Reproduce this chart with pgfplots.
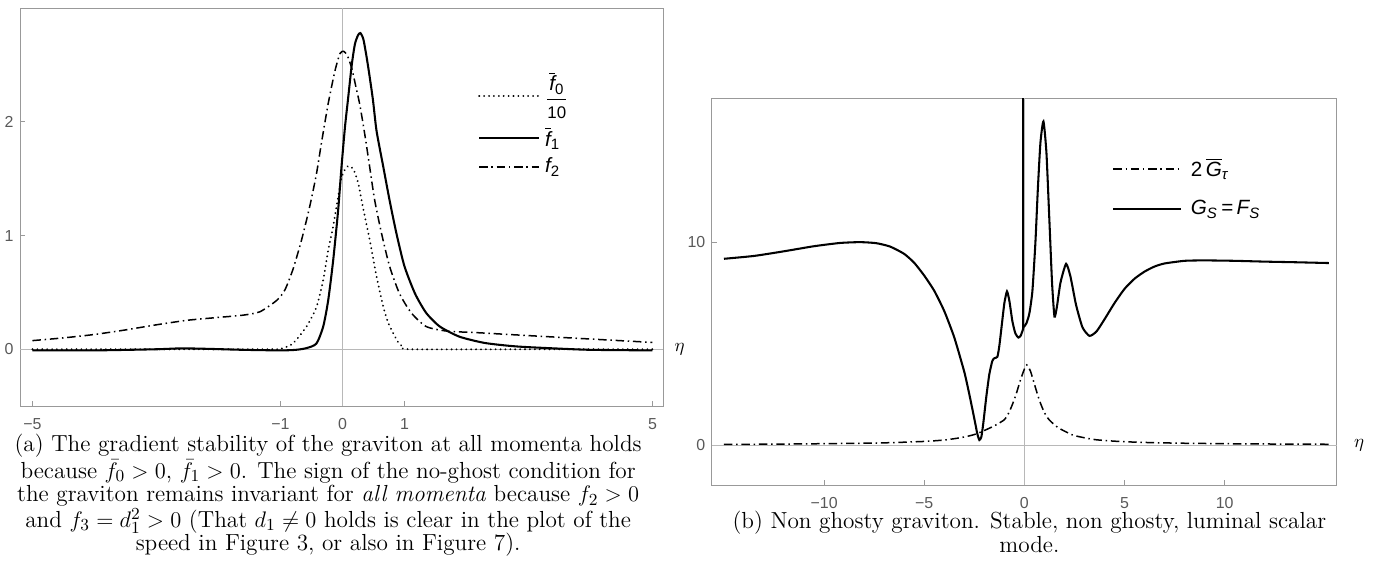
\documentclass[border=0pt]{standalone}
\usepackage{fontspec}
\setsansfont{Liberation Sans}
\usepackage{pgfplots}
\pgfplotsset{compat=1.18}
\definecolor{framegray}{gray}{0.6}
\definecolor{tickgray}{gray}{0.35}
\definecolor{axgray}{gray}{0.72}
\newcommand{\lsub}[1]{\mbox{\sffamily\fontsize{8}{9}\selectfont #1}}
\newcommand{\lsubi}[1]{\mbox{\sffamily\itshape\fontsize{8}{9}\selectfont #1}}
\newcommand{\lbar}[1]{\overline{\mbox{\sffamily\itshape #1}}}
\pgfplotsset{mystyle/.style={
  scale only axis, clip mode=individual,
  axis line style={framegray, line width=0.5pt},
  every tick/.style={framegray, line width=0.5pt},
  tick align=inside, major tick length=2.5pt,
  xtick pos=bottom, ytick pos=left,
  tick label style={font=\sffamily\fontsize{8.5}{10}\selectfont, text=tickgray},
  xticklabel style={yshift=-3pt},
  /pgf/number format/assume math mode=true,
  legend cell align=left,
  legend style={draw=none, fill=none, inner sep=0pt, font=\sffamily\fontsize{11}{13}\selectfont},
}}
\tikzset{
  solidc/.style={black, line width=1.1pt},
  dotc/.style={black, line width=1.1pt, line cap=round, dash pattern=on 0.01pt off 2.6pt},
  ddc/.style={black, line width=0.8pt, dash pattern=on 4.5pt off 2pt on 0.8pt off 2pt},
}
\pgfplotstableread{
x y
-5 0
-2 0
-1.1 0
-1.0 0.003
-0.8 0.05
-0.58 0.2
-0.42 0.37
-0.31 0.61
-0.23 0.87
-0.15 1.08
-0.07 1.34
-0.016 1.51
0.04 1.58
0.09 1.61
0.17 1.59
0.25 1.47
0.33 1.25
0.44 0.96
0.55 0.64
0.66 0.37
0.74 0.23
0.82 0.14
0.9 0.06
0.98 0.02
1.1 0
3 0
5 0
}\fzero
\pgfplotstableread{
x y
-5 -0.01
-4 -0.01
-3 0.0
-2.6 0.008
-2.2 0.004
-1.6 -0.005
-1.0 -0.01
-0.75 -0.005
-0.58 0.01
-0.42 0.05
-0.31 0.2
-0.23 0.43
-0.15 0.78
-0.07 1.22
-0.016 1.6
0.04 1.95
0.09 2.2
0.15 2.5
0.2 2.68
0.25 2.76
0.29 2.78
0.34 2.72
0.41 2.5
0.49 2.2
0.55 1.92
0.66 1.6
0.76 1.31
0.87 1.02
1.0 0.73
1.17 0.49
1.35 0.32
1.57 0.2
1.89 0.11
2.3 0.055
2.8 0.025
3.4 0.008
4 -0.005
5 -0.01
}\fone
\pgfplotstableread{
x y
-5 0.076
-4.5 0.1
-4 0.13
-3.5 0.17
-3 0.215
-2.5 0.255
-2 0.28
-1.6 0.3
-1.33 0.33
-1.06 0.43
-0.93 0.52
-0.8 0.7
-0.66 0.96
-0.53 1.25
-0.42 1.54
-0.34 1.81
-0.23 2.16
-0.12 2.45
-0.04 2.6
0.02 2.62
0.08 2.58
0.15 2.47
0.22 2.3
0.28 2.15
0.36 1.89
0.44 1.6
0.52 1.31
0.63 1.02
0.76 0.73
0.92 0.49
1.11 0.32
1.35 0.2
1.68 0.16
2.2 0.145
3 0.12
4 0.09
5 0.06
}\ftwo
\pgfplotstableread{
x y
-15 0.03
-12 0.05
-9 0.08
-7 0.11
-5 0.18
-4 0.25
-3.4 0.33
-3 0.4
-2.5 0.52
-2 0.72
-1.5 0.95
-1.0 1.25
-0.8 1.55
-0.6 2.0
-0.4 2.55
-0.2 3.2
0 3.75
0.12 3.95
0.3 3.65
0.5 3.0
0.75 2.2
1.0 1.6
1.25 1.23
1.7 0.85
2.4 0.5
3.0 0.36
3.6 0.26
4.7 0.18
6 0.13
8 0.09
11 0.06
15.2 0.04
}\gtau
\pgfplotstableread{
x y
-15 9.18
-13.5 9.32
-12 9.55
-10.5 9.8
-9.2 9.96
-8.2 10.0
-7.4 9.95
-6.7 9.78
-6 9.42
-5.5 8.98
-5 8.35
-4.5 7.6
-4.0 6.6
-3.5 5.3
-3.0 3.6
-2.75 2.5
-2.5 1.3
-2.35 0.55
-2.25 0.25
-2.15 0.4
-2.05 1.1
-1.9 2.4
-1.75 3.5
-1.6 4.15
-1.5 4.28
-1.35 4.35
-1.25 4.9
-1.12 6.0
-1.0 7.0
-0.87 7.57
-0.75 7.1
-0.6 6.1
-0.45 5.5
-0.3 5.3
-0.18 5.4
-0.05 5.77
}\gsleft
\pgfplotstableread{
x y
-0.05 5.77
-0.05 30
}\gsspike
\pgfplotstableread{
x y
-0.05 5.8
0.1 6.0
0.25 6.5
0.4 7.6
0.55 10.0
0.67 12.6
0.8 14.9
0.95 15.95
1.1 14.4
1.25 11.0
1.38 8.0
1.5 6.33
1.62 6.8
1.8 8.0
2.08 8.93
2.3 8.3
2.58 6.9
2.9 5.8
3.25 5.38
3.6 5.6
4.0 6.2
4.5 7.0
5.0 7.7
5.5 8.2
6.0 8.55
6.5 8.8
7.0 8.95
8.0 9.08
9.0 9.1
10.5 9.08
12 9.04
13.5 9.01
15.2 8.97
}\gsright
\begin{document}
\begin{tikzpicture}
\useasboundingbox (0,0) rectangle (734.4pt,-309.9pt);
% ---------- left panel ----------
\begin{axis}[mystyle,
  at={(10.7pt,-4.3pt)}, anchor=north west,
  width=342.9pt, height=212.3pt,
  xmin=-5.2, xmax=5.17, ymin=-0.5, ymax=3.0,
  xtick={-5,-1,0,1,5}, xticklabels={−5,−1,0,1,5},
  ytick={0,1,2},
  legend image code/.code={\draw[#1] (0pt,0pt) -- (32pt,0pt);},
  legend style={at={(0.712,0.84)}, anchor=north west, row sep=4.5pt,
     nodes={inner xsep=2.6pt, inner ysep=0pt, text depth=}},
]
\draw[axgray, line width=0.5pt] (axis cs:0,-0.5) -- (axis cs:0,3.0);
\draw[axgray, line width=0.5pt] (axis cs:-5.2,0) -- (axis cs:5.17,0);
\addplot[dotc, smooth, tension=0.4] table {\fzero};
\addlegendentry{${\displaystyle\frac{\lbar{f}_{\lsub{0}}}{\mbox{\sffamily\fontsize{9}{10}\selectfont 10}}}$}
\addplot[solidc, smooth, tension=0.4] table {\fone};
\addlegendentry{$\lbar{f}_{\lsub{1}}$}
\addplot[ddc, smooth, tension=0.4] table {\ftwo};
\addlegendentry{$\mbox{\sffamily\itshape f}_{\lsub{2}}$}
\node[anchor=west, inner sep=0pt] at (axis cs:5.17,0) [xshift=6pt] {$\eta$};
\end{axis}
% ---------- right panel ----------
\begin{axis}[mystyle,
  at={(379.7pt,-52.3pt)}, anchor=north west,
  width=333.3pt, height=206.4pt,
  xmin=-15.6, xmax=15.6, ymin=-1.97, ymax=17.1,
  xtick={-10,-5,0,5,10}, xticklabels={−10,−5,0,5,10},
  ytick={0,10},
  legend image code/.code={\draw[#1] (0pt,0pt) -- (36pt,0pt);},
  legend style={at={(0.64,0.845)}, anchor=north west, row sep=11pt,
     nodes={inner xsep=4.8pt, inner ysep=0pt, text depth=}},
]
\draw[axgray, line width=0.5pt] (axis cs:0,-1.97) -- (axis cs:0,17.1);
\draw[axgray, line width=0.5pt] (axis cs:-15.6,0) -- (axis cs:15.6,0);
\addplot[ddc, smooth, tension=0.4] table {\gtau};
\addlegendentry{2\,$\lbar{G}_{\lsubi{τ}}$}
\addplot[solidc, smooth, tension=0.35] table {\gsleft};
\addlegendentry{\itshape G$_{\lsubi{S}}$\,\upshape=\,\itshape F$_{\lsubi{S}}$}
\addplot[solidc, forget plot] table {\gsspike};
\addplot[solidc, smooth, tension=0.35, forget plot] table {\gsright};
\node[anchor=west, inner sep=0pt] at (axis cs:15.6,0) [xshift=9pt] {$\eta$};
\end{axis}
% ---------- captions ----------
\node[anchor=north, inner sep=0pt, text width=345pt, align=flush center,
      font=\fontsize{12.4}{12.5}\selectfont] at (175pt,-231.5pt)
  {(a) The gradient stability of the graviton at all momenta holds because $\bar{f}_0>0$, $\bar{f}_1>0$. The sign of the no-ghost condition for the graviton remains invariant for \emph{all momenta} because $f_2>0$ and $f_3=d_1^2>0$ (That $d_1\neq0$ holds is clear in the plot of the speed in Figure 3, or also in Figure 7).};
\node[anchor=north, inner sep=0pt, text width=345pt, align=flush center,
      font=\fontsize{12.4}{12.5}\selectfont] at (549pt,-272.5pt)
  {(b) Non ghosty graviton. Stable, non ghosty, luminal scalar mode.};
\end{tikzpicture}
\end{document}
